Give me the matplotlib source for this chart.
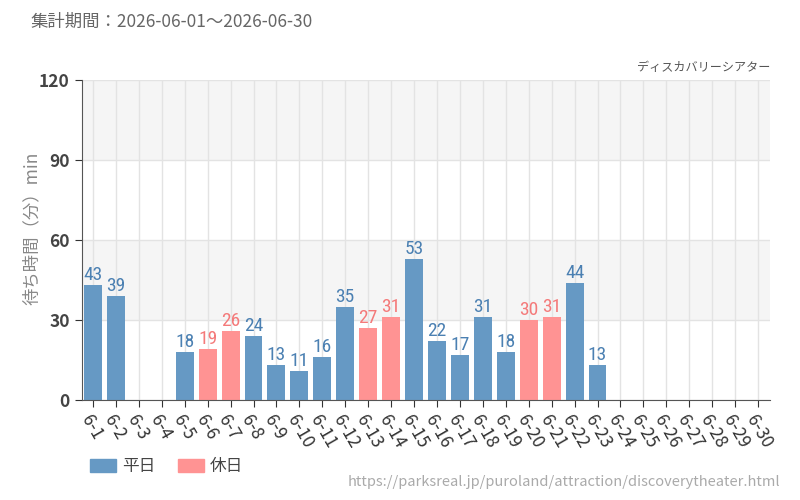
import matplotlib
matplotlib.use("Agg")
import matplotlib.pyplot as plt
from matplotlib.patches import Patch
from matplotlib import font_manager
import numpy as np

plt.rcParams['font.family'] = ['Noto Sans CJK JP', 'DejaVu Sans']

days = [f"6-{d}" for d in range(1, 31)]
values = [43, 39, None, None, 18, 19, 26, 24, 13, 11, 16, 35, 27, 31, 53,
          22, 17, 31, 18, 30, 31, 44, 13, None, None, None, None, None, None, None]
holidays = [6, 7, 13, 14, 20, 21, 27, 28]
yticks = [0, 30, 60, 90, 120]

blue = '#6699c4'
pink = '#ff9393'
blue_txt = '#4b80b2'
pink_txt = '#f47a7a'

names = {f.name for f in font_manager.fontManager.ttflist}
narrow = None
for cand in ['Liberation Sans Narrow', 'Roboto Condensed', 'Open Sans Condensed', 'DejaVu Sans Condensed']:
    if cand in names:
        narrow = cand
        break

fig = plt.figure(figsize=(8, 5), dpi=100)
ax = fig.add_axes([81.5/800, 100/500, 688/800, 320/500])

x = np.arange(len(days))
ax.set_xlim(-0.5, len(days) - 0.5)
ax.set_ylim(0, 120)

for lo, hi in [(30, 60), (90, 120)]:
    ax.axhspan(lo, hi, color='#f5f5f5', zorder=0, lw=0)

ax.set_xticks(x)
ax.set_yticks(yticks)
ax.grid(True, color='#e3e3e3', lw=1, zorder=0.5)
ax.set_axisbelow(True)

for i, v in enumerate(values):
    if v is None:
        continue
    hol = (i + 1) in holidays
    ax.bar(i, v, width=0.78, color=pink if hol else blue, zorder=2)
    if narrow:
        kw = dict(family=[narrow, 'DejaVu Sans'], fontsize=14)
    else:
        kw = dict(family=['DejaVu Sans'], fontstretch='condensed', fontsize=11)
    ax.text(i, v + 0.4, str(v), ha='center', va='bottom',
            color=pink_txt if hol else blue_txt, zorder=3, **kw)

labels = ax.set_xticklabels(days, rotation=-60, ha='left', va='top',
                            rotation_mode='anchor', fontsize=12.5)
for i, lab in enumerate(labels):
    lab.set_color(pink_txt if (i + 1) in holidays else '#444444')

ax.tick_params(axis='y', labelsize=12.5, colors='#333333', length=5)
ax.tick_params(axis='x', length=5, colors='#333333')
for lab in ax.get_yticklabels():
    lab.set_fontweight('bold')
    lab.set_color('#444444')
for s in ['top', 'right']:
    ax.spines[s].set_visible(False)
for s in ['left', 'bottom']:
    ax.spines[s].set_color('#555555')

ax.set_ylabel('待ち時間（分）min', color='#888888', fontsize=12.5)
ax.yaxis.set_label_coords((41 - 81.5) / 688, (400 - 228) / 320)

fig.text(30/800, 1 - 22/500, '集計期間：2026-06-01～2026-06-30', fontsize=12.5,
         color='#666666', va='center', ha='left')
fig.text(770/800, 1 - 68/500, 'ディスカバリーシアター', fontsize=8.7,
         color='#555555', va='center', ha='right')
fig.text(780/800, 1 - 482/500, 'https://parksreal.jp/puroland/attraction/discoverytheater.html',
         fontsize=10.5, color='#aaaaaa', va='center', ha='right')

handles = [Patch(color=blue, label='平日'), Patch(color=pink, label='休日')]
leg = fig.legend(handles=handles, loc='center left', bbox_to_anchor=(90/800, 1 - 467/500),
                 ncol=2, frameon=False, fontsize=12, handlelength=1.55, handleheight=0.85,
                 handletextpad=0.35, columnspacing=1.4, borderpad=0, borderaxespad=0)
for t in leg.get_texts():
    t.set_color('#444444')

fig.savefig('out.png', dpi=100)
